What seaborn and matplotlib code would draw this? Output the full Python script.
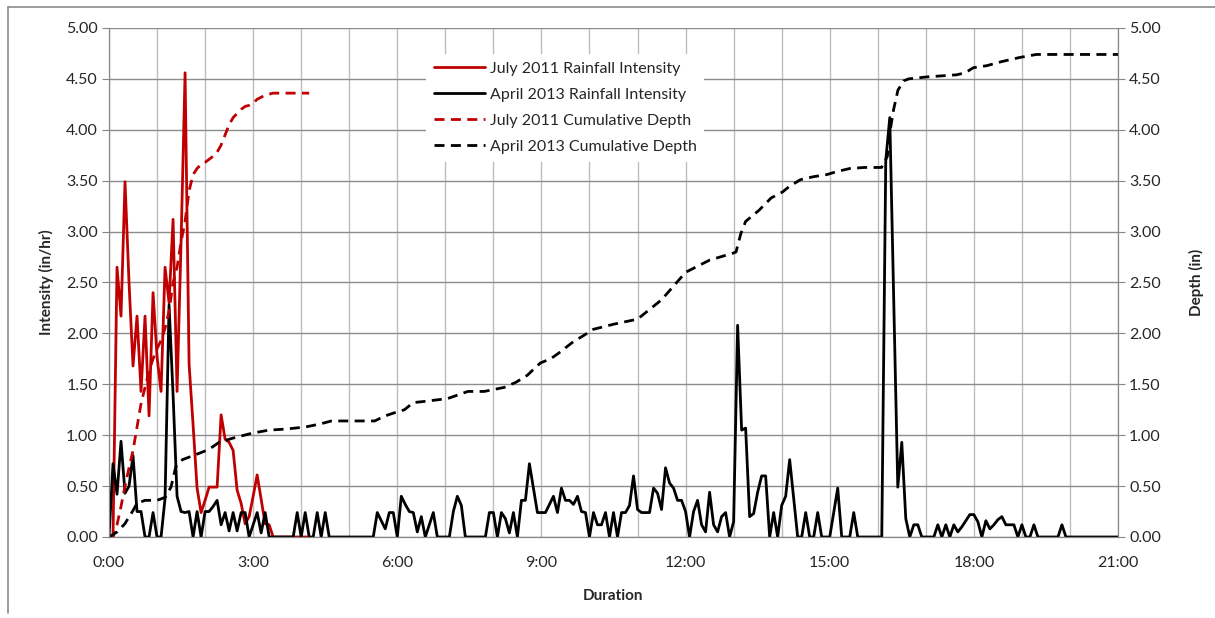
import numpy as np
import pandas as pd
import matplotlib
matplotlib.use('Agg')
import matplotlib.pyplot as plt
from matplotlib.lines import Line2D
from matplotlib.ticker import FuncFormatter, MultipleLocator
import seaborn as sns

# 5-minute steps, durations in hours
july_intensity = [
    0, 0, 2.65, 2.17, 3.49, 2.50, 1.68, 2.17, 1.43, 2.17, 1.19, 2.40,
    1.77, 1.43, 2.65, 2.30, 3.12, 1.43, 2.90, 4.56, 1.70, 1.10, 0.48, 0.24,
    0.36, 0.49, 0.49, 0.49, 1.20, 0.96, 0.93, 0.85, 0.46, 0.33, 0.13, 0.20,
    0.40, 0.61, 0.37, 0.13, 0.12, 0, 0, 0, 0, 0, 0, 0,
    0, 0, 0]
july_depth = [
    0, 0, 0.12, 0.30, 0.50, 0.68, 0.85, 1.08, 1.31, 1.47, 1.63, 1.75,
    1.85, 1.93, 2.05, 2.22, 2.50, 2.65, 2.90, 3.10, 3.40, 3.56, 3.62, 3.66,
    3.68, 3.71, 3.74, 3.78, 3.85, 3.95, 4.05, 4.12, 4.16, 4.20, 4.23, 4.24,
    4.26, 4.30, 4.32, 4.34, 4.35, 4.36, 4.36, 4.36, 4.36, 4.36, 4.36, 4.36,
    4.36, 4.36, 4.36]
april_intensity = [
    0, 0.72, 0.42, 0.94, 0.43, 0.50, 0.80, 0.25, 0.25, 0, 0, 0.24,
    0, 0, 0.38, 2.28, 1.40, 0.40, 0.25, 0.24, 0.25, 0, 0.25, 0,
    0.25, 0.25, 0.30, 0.36, 0.12, 0.24, 0.06, 0.24, 0.06, 0.24, 0.24, 0,
    0.12, 0.24, 0.04, 0.24, 0, 0, 0, 0, 0, 0, 0, 0.24,
    0, 0.24, 0, 0, 0.24, 0, 0.24, 0, 0, 0, 0, 0,
    0, 0, 0, 0, 0, 0, 0, 0.24, 0.16, 0.08, 0.24, 0.24,
    0, 0.40, 0.32, 0.25, 0.24, 0.05, 0.20, 0, 0.12, 0.24, 0, 0,
    0, 0, 0.25, 0.40, 0.31, 0, 0, 0, 0, 0, 0, 0.24,
    0.24, 0, 0.24, 0.18, 0.04, 0.24, 0, 0.36, 0.36, 0.72, 0.48, 0.24,
    0.24, 0.24, 0.32, 0.40, 0.24, 0.48, 0.36, 0.36, 0.32, 0.40, 0.25, 0.24,
    0, 0.24, 0.12, 0.12, 0.24, 0, 0.24, 0, 0.24, 0.24, 0.31, 0.60,
    0.27, 0.24, 0.24, 0.24, 0.48, 0.43, 0.27, 0.68, 0.53, 0.48, 0.36, 0.36,
    0.25, 0, 0.25, 0.36, 0.12, 0.05, 0.44, 0.12, 0.05, 0.20, 0.24, 0,
    0.15, 2.08, 1.05, 1.07, 0.20, 0.23, 0.44, 0.60, 0.60, 0, 0.24, 0,
    0.31, 0.40, 0.76, 0.38, 0, 0, 0.24, 0, 0, 0.24, 0, 0,
    0, 0.24, 0.48, 0, 0, 0, 0.24, 0, 0, 0, 0, 0,
    0, 0, 3.70, 4.12, 2.30, 0.49, 0.93, 0.18, 0, 0.12, 0.12, 0,
    0, 0, 0, 0.12, 0, 0.12, 0, 0.12, 0.05, 0.10, 0.16, 0.22,
    0.22, 0.15, 0, 0.16, 0.08, 0.12, 0.17, 0.20, 0.12, 0.12, 0.12, 0,
    0.12, 0, 0, 0.12, 0, 0, 0, 0, 0, 0, 0.12, 0,
    0, 0, 0, 0, 0, 0, 0, 0, 0, 0, 0, 0,
    0]
# cumulative depth of April 2013 read at break points
april_depth_t = [
    0.00, 0.17, 0.33, 0.50, 0.58, 0.75, 1.00, 1.17, 1.29, 1.39, 1.53, 1.81,
    2.08, 2.29, 2.57, 2.98, 3.33, 3.67, 4.08, 4.39, 4.63, 5.53, 5.75, 6.00,
    6.15, 6.33, 6.53, 7.05, 7.29, 7.47, 7.81, 8.02, 8.23, 8.47, 8.71, 8.82,
    8.98, 9.19, 9.37, 9.64, 9.88, 10.08, 10.50, 11.00, 11.50, 12.00, 12.50, 13.00,
    13.05, 13.15, 13.25, 13.53, 13.78, 14.02, 14.15, 14.39, 14.67, 14.94, 15.15, 15.42,
    15.72, 16.08, 16.20, 16.25, 16.33, 16.42, 16.54, 16.64, 17.03, 17.64, 17.82, 17.99,
    18.27, 18.58, 18.95, 19.30, 21.00]
april_depth = [
    0.00, 0.05, 0.13, 0.26, 0.33, 0.36, 0.36, 0.39, 0.49, 0.69, 0.76, 0.81,
    0.86, 0.93, 0.97, 1.02, 1.05, 1.06, 1.08, 1.11, 1.14, 1.14, 1.19, 1.23,
    1.25, 1.32, 1.33, 1.36, 1.40, 1.43, 1.43, 1.45, 1.47, 1.52, 1.59, 1.64,
    1.71, 1.75, 1.81, 1.91, 1.98, 2.04, 2.09, 2.14, 2.33, 2.60, 2.72, 2.79,
    2.80, 2.98, 3.10, 3.21, 3.33, 3.39, 3.44, 3.51, 3.54, 3.56, 3.59, 3.62,
    3.63, 3.63, 3.74, 3.97, 4.20, 4.39, 4.48, 4.50, 4.52, 4.54, 4.56, 4.61,
    4.63, 4.67, 4.71, 4.74, 4.74]

july_t = np.arange(len(july_intensity)) / 12
april_t = np.arange(len(april_intensity)) / 12

sns.set_style('white')
plt.rcParams['font.family'] = ['Lato', 'DejaVu Sans']

fig = plt.figure(figsize=(12.15, 6.18), dpi=100)
ax = fig.add_axes([109 / 1215, 1 - 537 / 618, 1009 / 1215, 509 / 618])
ax2 = ax.twinx()

red = '#C00000'
dash = (0, (3.6, 2.3))
sns.lineplot(x=july_t, y=july_intensity, ax=ax, color=red, lw=2.0,
             label='July 2011 Rainfall Intensity', legend=False)
sns.lineplot(x=april_t, y=april_intensity, ax=ax, color='black', lw=2.0,
             label='April 2013 Rainfall Intensity', legend=False)
sns.lineplot(x=july_t, y=july_depth, ax=ax2, color=red, lw=2.0, linestyle=dash,
             label='July 2011 Cumulative Depth', legend=False)
sns.lineplot(x=april_depth_t, y=april_depth, ax=ax2, color='black', lw=2.0,
             linestyle=dash, label='April 2013 Cumulative Depth', legend=False)

for a in (ax, ax2):
    a.set_xlim(0, 21)
    a.set_ylim(0, 5)
    a.yaxis.set_major_locator(MultipleLocator(0.5))
    a.yaxis.set_major_formatter(FuncFormatter(lambda v, p: f'{v:.2f}'))
    a.tick_params(axis='y', labelsize=11.5, length=5, color='#868686', pad=3)
    for s in a.spines.values():
        s.set_color('#868686')
    a.spines['top'].set_visible(False)

ax.xaxis.set_major_locator(MultipleLocator(3))
ax.xaxis.set_minor_locator(MultipleLocator(1))
ax.xaxis.set_major_formatter(FuncFormatter(lambda v, p: f'{int(round(v))}:00'))
ax.tick_params(axis='x', which='major', labelsize=11.5, length=5, color='#868686', pad=9)
ax.tick_params(axis='x', which='minor', length=0)
ax.tick_params(axis='y', left=True)
ax2.tick_params(axis='y', right=True)

ax.grid(axis='x', which='both', color='#bdbdbd', lw=1)
ax.grid(axis='y', which='major', color='#8c8c8c', lw=1)

ax.set_xlabel('Duration', fontsize=11, fontweight='bold', labelpad=13)
ax.set_ylabel('Intensity (in/hr)', fontsize=11, fontweight='bold', labelpad=9)
ax2.set_ylabel('Depth (in)', fontsize=11, fontweight='bold', labelpad=20)

handles = ax.get_lines()[:2] + ax2.get_lines()[:2]
labels = [h.get_label() for h in handles]
leg = ax2.legend(handles, labels, loc='upper left', bbox_to_anchor=(0.306, 0.965),
                 fontsize=11.5, frameon=True, facecolor='white', edgecolor='white',
                 framealpha=1, handlelength=3.2, handletextpad=0.3, labelspacing=0.74,
                 borderpad=0.5)
leg.get_frame().set_linewidth(0)

# outer chart-area frame (left and top edges visible)
fig.add_artist(Line2D([8 / 1215, 8 / 1215], [1 - 613 / 618, 1 - 7 / 618],
                      color='#8c8c8c', lw=1.2, transform=fig.transFigure))
fig.add_artist(Line2D([8 / 1215, 1], [1 - 7 / 618, 1 - 7 / 618],
                      color='#8c8c8c', lw=1.2, transform=fig.transFigure))

fig.savefig('out.png', dpi=100, facecolor='white')
